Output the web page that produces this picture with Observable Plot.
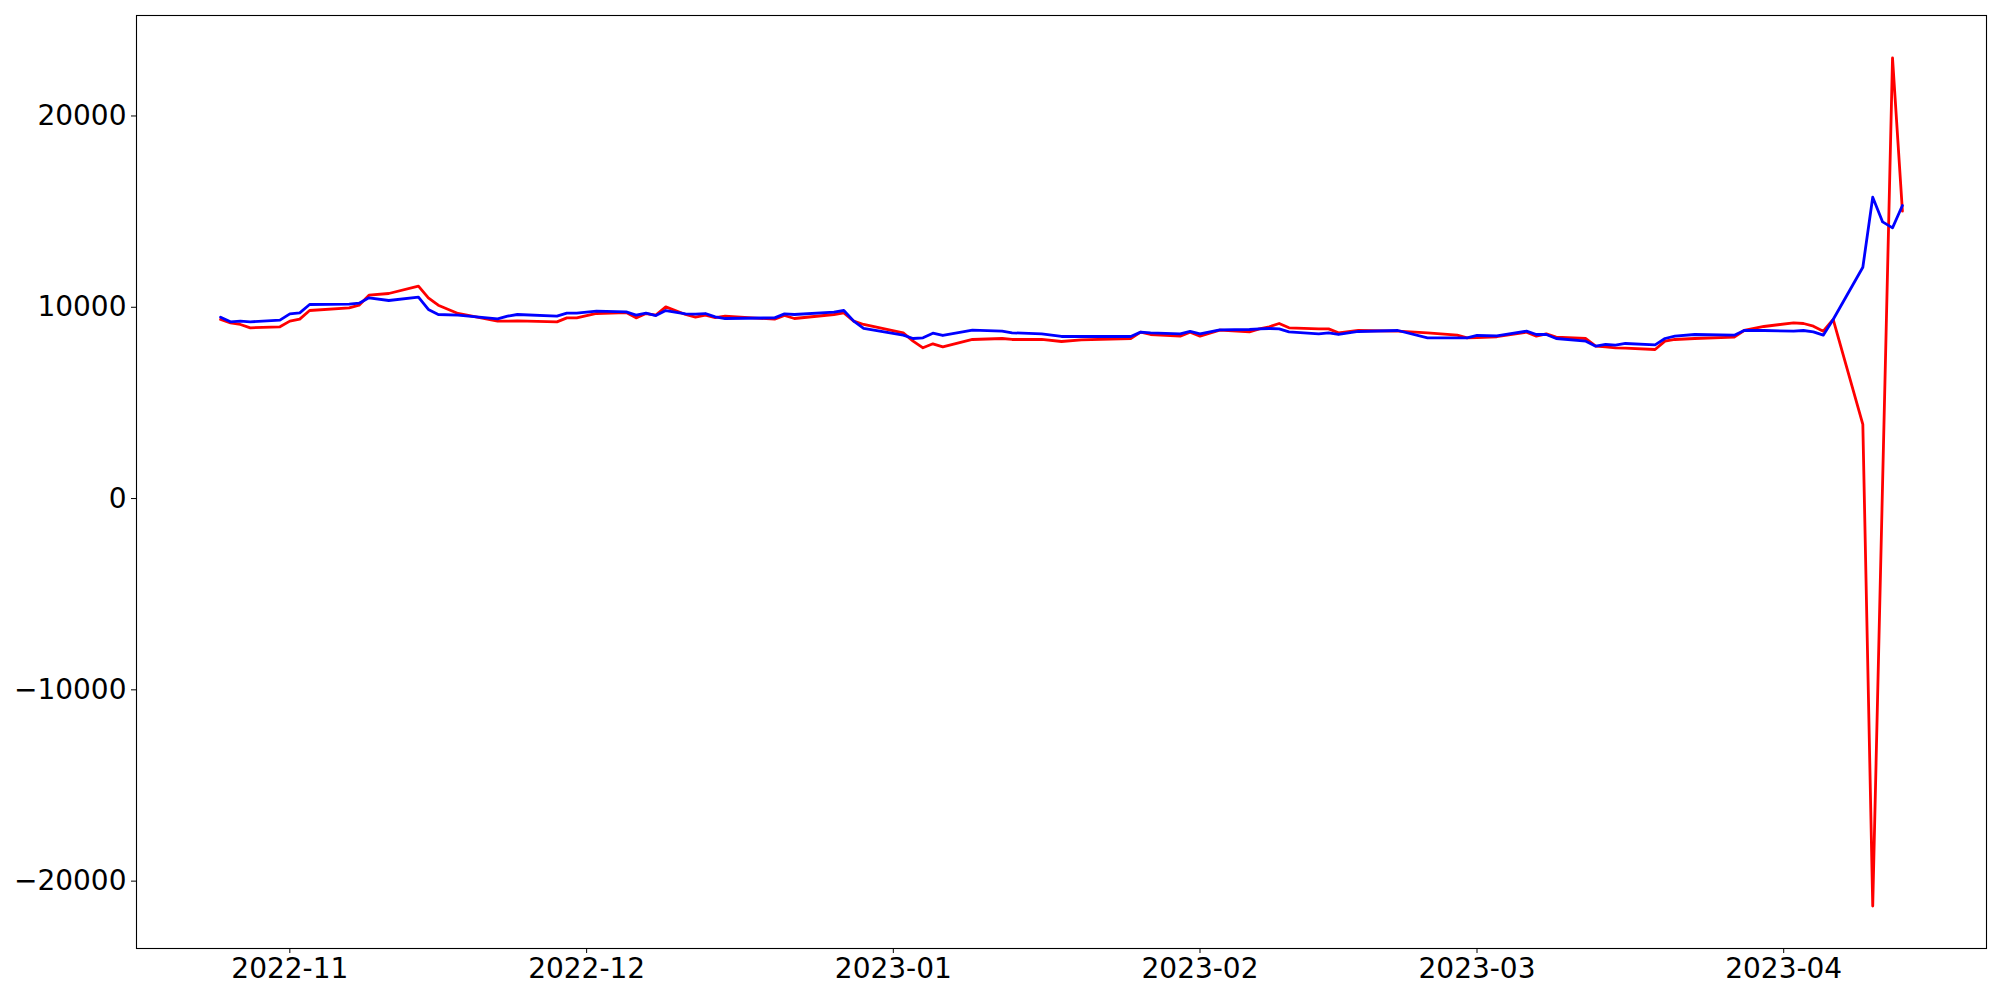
<!DOCTYPE html>
<html><head><meta charset="utf-8">
<script src="https://cdn.jsdelivr.net/npm/d3@7"></script>
<script src="https://cdn.jsdelivr.net/npm/@observablehq/plot@0.6"></script>
<style>html,body{margin:0;padding:0;background:#fff}</style>
</head><body><div id="chart"></div>
<script>
const dates = [
"2022-10-25","2022-10-26","2022-10-27","2022-10-28","2022-10-31","2022-11-01","2022-11-02","2022-11-03",
"2022-11-07","2022-11-08","2022-11-09","2022-11-11","2022-11-14","2022-11-15","2022-11-16","2022-11-18",
"2022-11-22","2022-11-23","2022-11-24","2022-11-28","2022-11-29","2022-11-30","2022-12-02","2022-12-05",
"2022-12-06","2022-12-07","2022-12-08","2022-12-09","2022-12-11","2022-12-12","2022-12-13","2022-12-14",
"2022-12-15","2022-12-20","2022-12-21","2022-12-22","2022-12-26","2022-12-27","2022-12-28",
"2022-12-29","2023-01-02","2023-01-03","2023-01-04","2023-01-05","2023-01-06","2023-01-09","2023-01-12",
"2023-01-13","2023-01-16","2023-01-18","2023-01-20","2023-01-25","2023-01-26","2023-01-27","2023-01-30",
"2023-01-31","2023-02-01","2023-02-03","2023-02-06","2023-02-07","2023-02-08","2023-02-09","2023-02-10",
"2023-02-13","2023-02-14","2023-02-15","2023-02-17","2023-02-21","2023-02-24","2023-02-27","2023-02-28",
"2023-03-01","2023-03-03","2023-03-06","2023-03-07","2023-03-08","2023-03-09","2023-03-12","2023-03-13",
"2023-03-14","2023-03-15","2023-03-16","2023-03-19","2023-03-20","2023-03-21","2023-03-23","2023-03-27",
"2023-03-28","2023-03-30","2023-04-02","2023-04-03","2023-04-04","2023-04-05","2023-04-06","2023-04-09",
"2023-04-10","2023-04-11","2023-04-12","2023-04-13"
];
const redValues = [
9361,9187,9100,8926,8978,9274,9379,9831,
9970,10110,10633,10720,11103,10493,10110,9675,
9274,9274,9292,9239,9448,9448,9675,9725,
9447,9673,9586,10022,9621,9482,9586,9464,
9534,9377,9569,9412,9622,9709,9274,
9100,8664,8229,7880,8089,7932,8316,8368,
8316,8316,8210,8298,8368,8699,8577,8490,
8699,8490,8803,8716,8873,8978,9152,8925,
8873,8873,8664,8786,8751,8664,8542,8403,
8420,8460,8699,8490,8612,8438,8368,7967,
7932,7880,7863,7793,8229,8316,8368,8438,
8786,8995,9187,9152,9013,8751,9361,3873,
-21305,null,23036,15022
];
const blueValues = [
9483,9239,9274,9239,9326,9657,9709,10145,
10162,10214,10493,10354,10528,9884,9622,9588,
9396,9535,9622,9535,9692,9692,9796,9760,
9586,9691,9569,9830,9656,9640,9673,9499,
9412,9447,9656,9621,9744,9831,9274,
8891,8542,8368,8403,8647,8525,8803,8751,
8664,8612,8473,8473,8473,8699,8664,8612,
8734,8612,8821,8838,8873,8891,8873,8716,
8612,8664,8577,8734,8786,8403,8403,8403,
8525,8500,8751,8577,8577,8368,8229,7967,
8054,8020,8107,8037,8368,8490,8577,8542,
8786,8786,8751,8786,8716,8542,9361,12095,
15754,14463,14150,15320
];
const yTicks = [-20000, -10000, 0, 10000, 20000];
const xTickLabels = ["2022-11","2022-12","2023-01","2023-02","2023-03","2023-04"];

const rows = dates.map((d, i) => ({date: new Date(d + "T00:00:00Z"), red: redValues[i], blue: blueValues[i]}));
const [t0, t1] = d3.extent(rows, d => d.date);
const tPad = (t1 - t0) * 0.05;
const allVals = redValues.concat(blueValues).filter(v => v != null);
const [v0, v1] = d3.extent(allVals);
const vPad = (v1 - v0) * 0.05;
const xTicks = xTickLabels.map(s => new Date(s + "-01T00:00:00Z"));

const chart = Plot.plot({
  width: 2000, height: 1000,
  marginLeft: 136, marginRight: 14, marginTop: 15, marginBottom: 52,
  style: {fontFamily: "DejaVu Sans", fontSize: "28px", background: "white", color: "black", overflow: "visible"},
  x: {type: "utc", domain: [new Date(+t0 - tPad), new Date(+t1 + tPad)]},
  y: {domain: [v0 - vPad, v1 + vPad]},
  marks: [
    Plot.line(rows, {filter: d => d.red != null, x: "date", y: "red", stroke: "#ff0000", strokeWidth: 2.8}),
    Plot.line(rows, {x: "date", y: "blue", stroke: "#0000ff", strokeWidth: 2.8}),
    Plot.frame({stroke: "black", strokeWidth: 1.1}),
    Plot.axisX({ticks: xTicks, tickFormat: d3.utcFormat("%Y-%m"), tickSize: 5, tickPadding: 5, label: null}),
    Plot.axisY({ticks: yTicks, tickFormat: v => v < 0 ? "\u2212" + Math.abs(v) : String(v), tickSize: 5, tickPadding: 5, label: null})
  ]
});
document.getElementById("chart").appendChild(chart);
</script>
</body></html>
